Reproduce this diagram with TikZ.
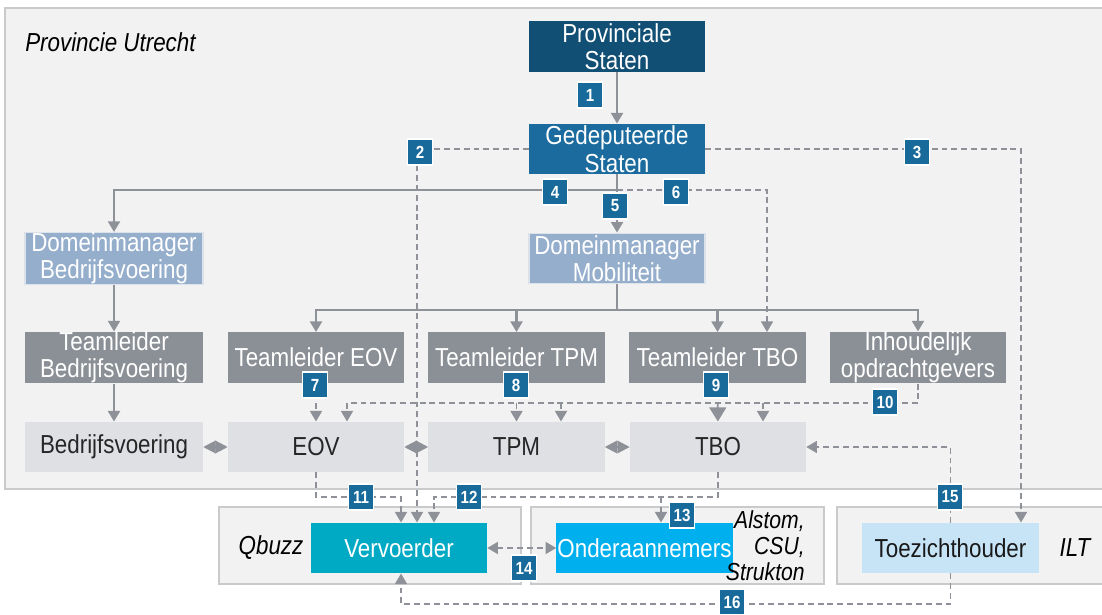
\documentclass[tikz,border=0pt]{standalone}
\usepackage{fontspec}
\setmainfont{Liberation Sans}[FakeStretch=0.86]
\usetikzlibrary{arrows.meta}
\definecolor{psblue}{HTML}{124F75}
\definecolor{gsblue}{HTML}{1B6B9E}
\definecolor{dmblue}{HTML}{95AECC}
\definecolor{dmedge}{HTML}{DCE2EA}
\definecolor{tlgray}{HTML}{8B9097}
\definecolor{unitgray}{HTML}{DFE0E4}
\definecolor{areagray}{HTML}{F2F2F2}
\definecolor{edgegray}{HTML}{C9CACC}
\definecolor{linegray}{HTML}{8E9298}
\definecolor{numblue}{HTML}{186A9B}
\definecolor{vvteal}{HTML}{00A9C4}
\definecolor{oablue}{HTML}{00B0EE}
\definecolor{tzblue}{HTML}{C7E4F7}
\begin{document}
\begin{tikzpicture}[x=0.025cm,y=-0.025cm]
                \tikzstyle{every node}+=[inner sep=0pt, font=\fontsize{18.5}{19.5}\selectfont]
                \tikzstyle{box}=[rectangle, minimum width=4.4cm, minimum height=1.26cm, align=center]
                \tikzstyle{ps}=[box, fill=psblue, text=white]
                \tikzstyle{gs}=[box, fill=gsblue, text=white]
                \tikzstyle{dm}=[box, fill=dmblue, draw=dmedge, line width=1pt, text=white]
                \tikzstyle{tl}=[box, fill=tlgray, text=white]
                \tikzstyle{unit}=[box, fill=unitgray, text=black!85]
                \tikzstyle{num}=[fill=numblue, draw=white, line width=1.2pt, text=white, inner xsep=2pt, minimum width=0.62cm, minimum height=0.64cm, font=\fontsize{12.5}{13}\bfseries]
                \tikzstyle{con}=[draw=linegray, line width=1.5pt, -{Triangle[length=7.5pt,width=8.5pt]}]
                \tikzstyle{dline}=[draw=linegray, line width=1.2pt, dash pattern=on 4.2pt off 2.8pt]
                \tikzstyle{dcon}=[dline, -{Triangle[length=7.5pt,width=8.5pt]}]
                \tikzstyle{dia}=[draw=linegray, line width=1pt, {Triangle[length=8.8pt,width=9pt]}-{Triangle[length=8.8pt,width=9pt]}]
                \useasboundingbox (0,0) rectangle (1102,615);
                % areas
                \draw [fill=areagray, draw=edgegray, line width=1pt] (5,8) rectangle (1110,489);
                \node [anchor=west, font=\fontsize{18.5}{19.5}\itshape] (prov) at (25,42) {Provincie Utrecht};
                \draw [fill=areagray, draw=edgegray, line width=1pt] (219,507) rectangle (521,584);
                \draw [fill=areagray, draw=edgegray, line width=1pt] (531,507) rectangle (824,584);
                \draw [fill=areagray, draw=edgegray, line width=1pt] (837,507) rectangle (1110,584);
                % boxes
                \node [ps] (ps) at (617,46.5) {Provinciale\\Staten};
                \node [gs] (gs) at (617,149) {Gedeputeerde\\Staten};
                \node [dm, minimum width=4.45cm] (dmb) at (114,258.5) {Domeinmanager\\Bedrijfsvoering};
                \node [dm] (dmm) at (617,258.5) {Domeinmanager\\Mobiliteit};
                \node [tl, minimum width=4.45cm] (tlb) at (114,357.5) {Teamleider\\Bedrijfsvoering};
                \node [tl] (tle) at (316,357.5) {Teamleider EOV};
                \node [tl] (tlt) at (516.5,357.5) {Teamleider TPM};
                \node [tl] (tlo) at (717.5,357.5) {Teamleider TBO};
                \node [tl] (io) at (918,357.5) {Inhoudelijk\\opdrachtgevers};
                \node [unit, minimum width=4.45cm] (bv) at (114,447) {Bedrijfsvoering};
                \node [unit] (eov) at (316,447) {EOV};
                \node [unit] (tpm) at (516.5,447) {TPM};
                \node [unit] (tbo) at (718,447) {TBO};
                \node [box, fill=vvteal, text=white] (ver) at (399,548) {Vervoerder};
                \node [box, fill=oablue, text=white] (oa) at (644.5,548) {Onderaannemers};
                \node [box, fill=tzblue, text=black!90] (tz) at (950.5,548) {Toezichthouder};
                \node [font=\fontsize{18.5}{19.5}\itshape] (qbuzz) at (271,548) {Qbuzz};
                \node [anchor=east, align=right, font=\fontsize{17.5}{18.5}\itshape] (oanames) at (805,546) {Alstom,\\CSU,\\Strukton};
                \node [font=\fontsize{18.5}{19.5}\itshape] (ilt) at (1075,548) {ILT};
                % helper coordinates
                \coordinate (x2) at (417,0);
                \coordinate (x3) at (1021,0);
                \coordinate (x6) at (767,0);
                \coordinate (x10a) at (347,0);
                \coordinate (x10b) at (561,0);
                \coordinate (x10c) at (763,0);
                \coordinate (x11) at (401,0);
                \coordinate (x12) at (434,0);
                \coordinate (x13) at (661,0);
                \coordinate (y4) at (0,190);
                \coordinate (y7) at (0,310);
                \coordinate (y10) at (0,403);
                \coordinate (y11) at (0,497);
                \coordinate (y16) at (0,604);
                % connectors
                \draw [con] (ps) -- (gs);
                \draw [dcon] (gs.west) -| (ver.north -| x2);
                \draw [dcon] (gs.east) -| (tz.north -| x3);
                \draw [con] (gs.south) -- (gs.south |- y4) -| (dmb.north);
                \draw [con] (gs.south) -- (dmm.north);
                \draw [dcon] (gs.south |- y4) -| (tlo.north -| x6);
                \draw [con] (dmb) -- (tlb);
                \draw [con] (tlb) -- (bv);
                \draw [con] (dmm.south) -- (dmm.south |- y7) -| (tle.north);
                \draw [con] (dmm.south |- y7) -| (tlt.north);
                \draw [con] (dmm.south |- y7) -| (tlo.north);
                \draw [con] (dmm.south |- y7) -| (io.north);
                \draw [dcon] (tle) -- (eov);
                \draw [dcon] (tlt) -- (tpm);
                \draw [dline, -{Triangle[length=10pt,width=12pt]}] (tlo) -- (tbo);
                \draw [dcon] (io.south) |- (x10a |- y10) -- (eov.north -| x10a);
                \draw [dcon] (x10b |- y10) -- (tpm.north -| x10b);
                \draw [dcon] (x10c |- y10) -- (tbo.north -| x10c);
                \draw [dia] (bv) -- (eov);
                \draw [dia] (eov) -- (tpm);
                \draw [dia] (tpm) -- (tbo);
                \draw [dcon] (eov.south) |- (x11 |- y11) -- (ver.north -| x11);
                \draw [dcon] (tbo.south) |- (x12 |- y11) -- (ver.north -| x12);
                \draw [dcon] (x13 |- y11) -- (oa.north -| x13);
                \draw [dline, {Triangle[length=7.5pt,width=8.5pt]}-{Triangle[length=7.5pt,width=8.5pt]}] (ver) -- (oa);
                \draw [dcon] (tz.north) |- (tbo.east);
                \draw [dcon] (tz.south) |- (x11 |- y16) -- (ver.south -| x11);
                % numbers
                \node [num] (n1) at (590,95) {1};
                \node [num] (n2) at (420,152) {2};
                \node [num] (n3) at (917,152) {3};
                \node [num] (n4) at (555,192) {4};
                \node [num] (n5) at (615,206) {5};
                \node [num] (n6) at (676,192) {6};
                \node [num] (n7) at (315,385) {7};
                \node [num] (n8) at (516,385) {8};
                \node [num] (n9) at (716,385) {9};
                \node [num] (n10) at (885,402) {10};
                \node [num] (n11) at (361,497) {11};
                \node [num] (n12) at (469,497) {12};
                \node [num] (n13) at (682,515) {13};
                \node [num] (n14) at (524,568) {14};
                \node [num] (n15) at (950,497) {15};
                \node [num] (n16) at (732,602) {16};
            \end{tikzpicture}
\end{document}
